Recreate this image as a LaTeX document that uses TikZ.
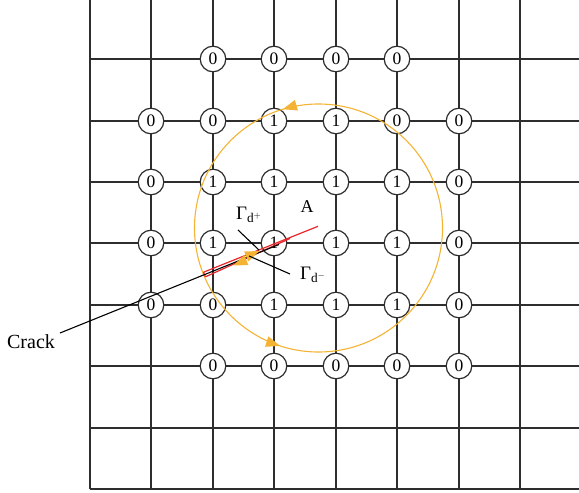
\documentclass[tikz,border=0pt]{standalone}
\usepackage{fontspec}
\setmainfont{Liberation Serif}
\definecolor{gridc}{HTML}{2E2E2E}
\definecolor{orng}{HTML}{F5B335}
\definecolor{crackred}{HTML}{E8262A}
\begin{document}
\begin{tikzpicture}[x=1pt,y=-1pt,
  gridline/.style={draw=gridc,line width=1.5pt},
  cell/.style={circle,draw=gridc,fill=white,line width=1.2pt,minimum size=25.6pt,inner sep=0pt,font=\fontsize{17.5}{17.5}\selectfont},
  leader/.style={draw=black,line width=1.1pt},
  redface/.style={draw=crackred,line width=1.2pt},
  lbl/.style={font=\fontsize{19}{19}\selectfont,inner sep=0pt},
  orngarrow/.style={fill=orng,draw=none}]
\useasboundingbox (0,0) rectangle (579,493);
% grid
\foreach \x in {90,151,213,274,336,397,459,520} \draw[gridline] (\x,0) -- (\x,489);
\foreach \y in {59,121,182,243,305,366,428,489} \draw[gridline] (90,\y) -- (579,\y);
% nodes
\foreach \c/\x/\v in {2/213/0,3/274/0,4/336/0,5/397/0}
  \node[cell] (n0-\c) at (\x,59) {\v};
\foreach \c/\x/\v in {1/151/0,2/213/0,3/274/1,4/336/1,5/397/0,6/459/0}
  \node[cell] (n1-\c) at (\x,121) {\v};
\foreach \c/\x/\v in {1/151/0,2/213/1,3/274/1,4/336/1,5/397/1,6/459/0}
  \node[cell] (n2-\c) at (\x,182) {\v};
\foreach \c/\x/\v in {1/151/0,2/213/1,3/274/1,4/336/1,5/397/1,6/459/0}
  \node[cell] (n3-\c) at (\x,243) {\v};
\foreach \c/\x/\v in {1/151/0,2/213/0,3/274/1,4/336/1,5/397/1,6/459/0}
  \node[cell] (n4-\c) at (\x,305) {\v};
\foreach \c/\x/\v in {2/213/0,3/274/0,4/336/0,5/397/0,6/459/0}
  \node[cell] (n5-\c) at (\x,366) {\v};
% contour
\coordinate (cc) at (318.5,228);
\draw[orng,line width=1.1pt] (cc) circle[radius=124];
\fill[orngarrow] (283,109.2) -- (298,110.5) -- (294.8,99.9) -- cycle;
\fill[orngarrow] (280,345.9) -- (265,346.8) -- (268.4,336.4) -- cycle;
% crack
\node[font=\fontsize{20}{20}\selectfont,inner sep=0pt] (crk) at (31,342) {Crack};
\coordinate (cstart) at (60,333);
\coordinate (tip) at (279,244.5);
\coordinate (ru1) at (203.5,272.2);
\coordinate (ru2) at (318,226.3);
\coordinate (rl1) at (205.5,276.8);
\coordinate (rl2) at (290,238.5);
\draw[redface] (ru1) -- (ru2);
\draw[redface] (rl1) -- (rl2);
\draw[redface] (ru1) -- (rl1);
\draw[leader] (cstart) -- (tip);
% crack-face arrows
\fill[orngarrow] (259.2,251.2) -- (248.2,261.5) -- (244.2,251.3) -- cycle;
\fill[orngarrow] (233.4,265.3) -- (248.4,265.2) -- (244.4,255) -- cycle;
% labels
\node[lbl] (gp) at (249,215) {Γ$_{\mathrm{d}^{+}}$};
\node[lbl] (gm) at (313,275) {Γ$_{\mathrm{d}^{-}}$};
\node[lbl,font=\fontsize{18}{18}\selectfont] (lA) at (307,207) {A};
\coordinate (gpa) at (238,230);
\coordinate (gpb) at (259,250);
\coordinate (gma) at (249,256);
\coordinate (gmb) at (290,274);
\draw[leader] (gpa) -- (gpb);
\draw[leader] (gma) -- (gmb);
\end{tikzpicture}
\end{document}
